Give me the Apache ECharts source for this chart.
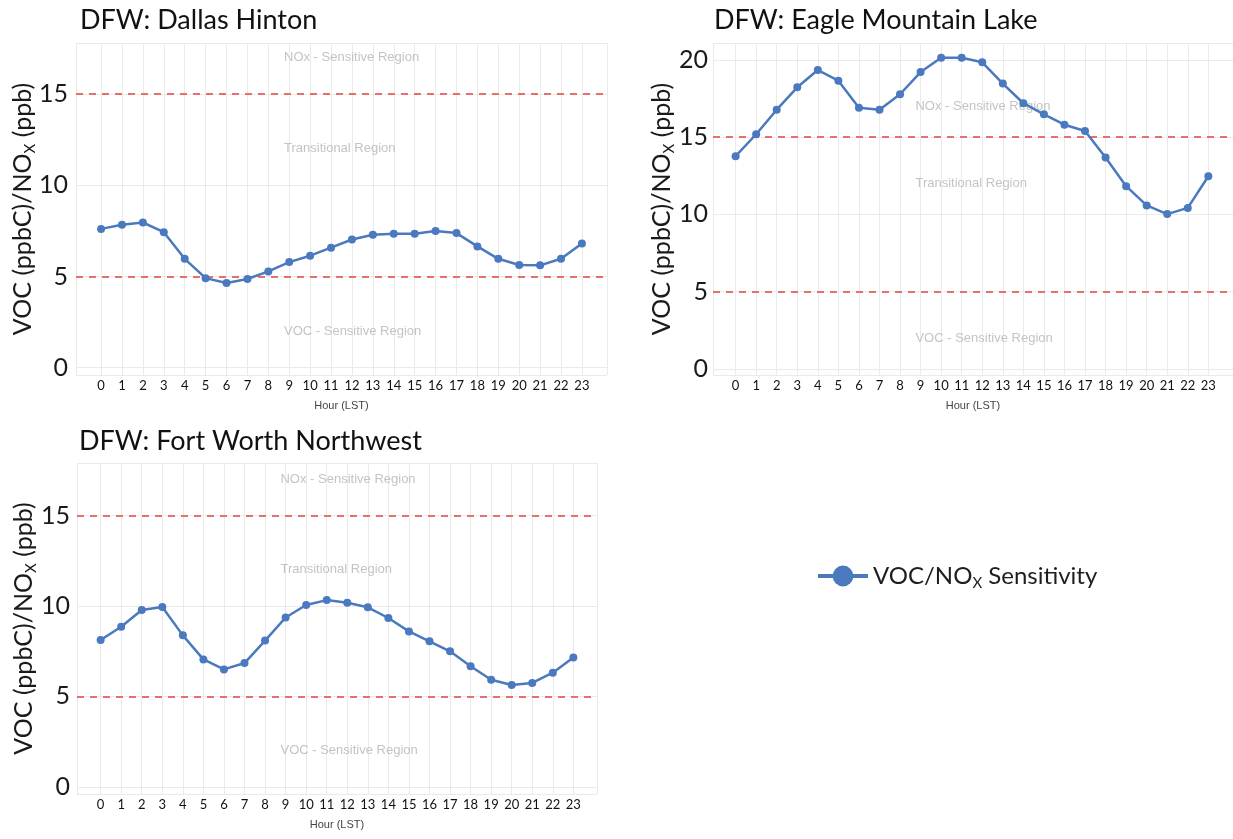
<!DOCTYPE html>
<html>
<head>
<meta charset="utf-8">
<script src="https://cdn.jsdelivr.net/npm/echarts@6/dist/echarts.min.js"></script>
<style>
html,body{margin:0;padding:0;background:#fff;}
#chart{width:1233px;height:839px;}
</style>
</head>
<body>
<div id="chart"></div>
<script>
// ---- data ----
var hours = [0,1,2,3,4,5,6,7,8,9,10,11,12,13,14,15,16,17,18,19,20,21,22,23];
var panelTitles = ['DFW: Dallas Hinton', 'DFW: Eagle Mountain Lake', 'DFW: Fort Worth Northwest'];
var dallasHinton = [7.61,7.84,7.96,7.43,5.97,4.91,4.64,4.86,5.28,5.79,6.14,6.58,7.03,7.29,7.34,7.34,7.49,7.38,6.65,5.97,5.63,5.61,5.97,6.81];
var eagleMountainLake = [13.77,15.19,16.78,18.23,19.35,18.66,16.91,16.78,17.78,19.22,20.15,20.15,19.85,18.47,17.2,16.48,15.81,15.40,13.68,11.83,10.58,10.02,10.42,12.47];
var fortWorthNW = [8.11,8.85,9.77,9.94,8.37,7.04,6.49,6.84,8.08,9.36,10.05,10.32,10.17,9.92,9.33,8.59,8.04,7.49,6.66,5.92,5.63,5.74,6.31,7.15];
var yTicks1 = [0,5,10,15];
var yTicks2 = [0,5,10,15,20];
var thresholds = [5, 15];
var regionLabels = ['NOx - Sensitive Region', 'Transitional Region', 'VOC - Sensitive Region'];
var regionLabelY = [17, 12, 2];
var regionLabelX = 8.75;
var seriesName = 'VOC/NOx Sensitivity';

// ---- layout ----
var panels = [
  {values: dallasHinton, yTicks: yTicks1, grid:{left:76, top:43, width:531, height:332}, xMin:-1.2, xMax:24.2, yMin:-0.4, yMax:17.8, title:{left:75, top:2}, labelMargin:8, nameGap:38},
  {values: eagleMountainLake, yTicks: yTicks2, grid:{left:713, top:43, width:525, height:332}, xMin:-1.1, xMax:24.2, yMin:-0.4, yMax:21.1, title:{left:709, top:2}, labelMargin:5, nameGap:36},
  {values: fortWorthNW, yTicks: yTicks1, grid:{left:77, top:463, width:520, height:331}, xMin:-1.15, xMax:24.15, yMin:-0.4, yMax:17.9, title:{left:74, top:423}, labelMargin:7, nameGap:38}
];

var FONT = 'Lato';
var lineColor = '#4a79bf';
var dashColor = '#e8706a';
var gridColor = '#eaeaea';

var option = {
  animation: false,
  backgroundColor: '#ffffff',
  title: [], grid: [], xAxis: [], yAxis: [], series: [],
  legend: {
    data: [seriesName],
    left: 811, top: 559,
    itemWidth: 50, itemHeight: 26,
    lineStyle: {width: 4},
    formatter: function(){ return '{a|VOC/NO}{s|X}{a| Sensitivity}'; },
    textStyle: {
      rich: {
        a: {fontFamily: FONT, fontSize: 24, color: '#1e1e1e', lineHeight: 30},
        s: {fontFamily: FONT, fontSize: 15, color: '#1e1e1e', verticalAlign: 'bottom', lineHeight: 17}
      }
    }
  }
};

panels.forEach(function(p, i){
  option.title.push({
    text: panelTitles[i], left: p.title.left, top: p.title.top,
    textStyle: {fontFamily: FONT, fontSize: 27, fontWeight: 'normal', color: '#111'}
  });
  option.grid.push(Object.assign({containLabel: false}, p.grid));
  option.xAxis.push({
    type: 'value', gridIndex: i, min: p.xMin, max: p.xMax,
    axisLine: {show: false},
    axisTick: {show: false, customValues: [p.xMin].concat(hours).concat([p.xMax])},
    axisLabel: {customValues: hours, margin: 4, fontFamily: FONT, fontSize: 13, color: '#111'},
    splitLine: {show: true, lineStyle: {color: gridColor, width: 1}},
    name: 'Hour (LST)', nameLocation: 'middle', nameGap: 25, nameMoveOverlap: false,
    nameTextStyle: {fontFamily: 'Liberation Sans', fontSize: 11, color: '#444'}
  });
  option.yAxis.push({
    type: 'value', gridIndex: i, min: p.yMin, max: p.yMax,
    axisLine: {show: false},
    axisTick: {show: false, customValues: [p.yMin].concat(p.yTicks).concat([p.yMax])},
    axisLabel: {customValues: p.yTicks, margin: p.labelMargin, fontFamily: FONT, fontSize: 25, color: '#1a1a1a'},
    splitLine: {show: true, lineStyle: {color: gridColor, width: 1}},
    name: '{a|VOC (ppbC)/NO}{s|X}{a| (ppb)}', nameLocation: 'middle', nameGap: p.nameGap, nameRotate: 90,
    nameMoveOverlap: false,
    nameTextStyle: {
      rich: {
        a: {fontFamily: FONT, fontSize: 25, color: '#1a1a1a', lineHeight: 30},
        s: {fontFamily: FONT, fontSize: 15, color: '#1a1a1a', verticalAlign: 'bottom', lineHeight: 17}
      }
    }
  });
  option.series.push({
    name: seriesName, type: 'line', xAxisIndex: i, yAxisIndex: i,
    data: hours.map(function(h, k){ return [h, p.values[k]]; }),
    symbol: 'circle', symbolSize: 8,
    lineStyle: {color: lineColor, width: 2.5},
    itemStyle: {color: lineColor},
    emphasis: {disabled: true}, silent: true, z: 5,
    markLine: {
      silent: true, symbol: ['none','none'], label: {show: false},
      lineStyle: {color: dashColor, type: [7, 6], width: 2},
      data: thresholds.map(function(t){ return {yAxis: t}; })
    }
  });
  option.series.push({
    name: 'regions', type: 'scatter', xAxisIndex: i, yAxisIndex: i,
    symbolSize: 0, silent: true, z: 3,
    data: regionLabels.map(function(t, k){ return {value: [regionLabelX, regionLabelY[k]], name: t}; }),
    label: {show: true, position: 'right', distance: 0, formatter: '{b}',
      fontFamily: 'Liberation Sans', fontSize: 13, color: '#b4b4b4'}
  });
});

var chart = echarts.init(document.getElementById('chart'), null, {renderer: 'canvas'});
chart.setOption(option);
</script>
</body>
</html>
